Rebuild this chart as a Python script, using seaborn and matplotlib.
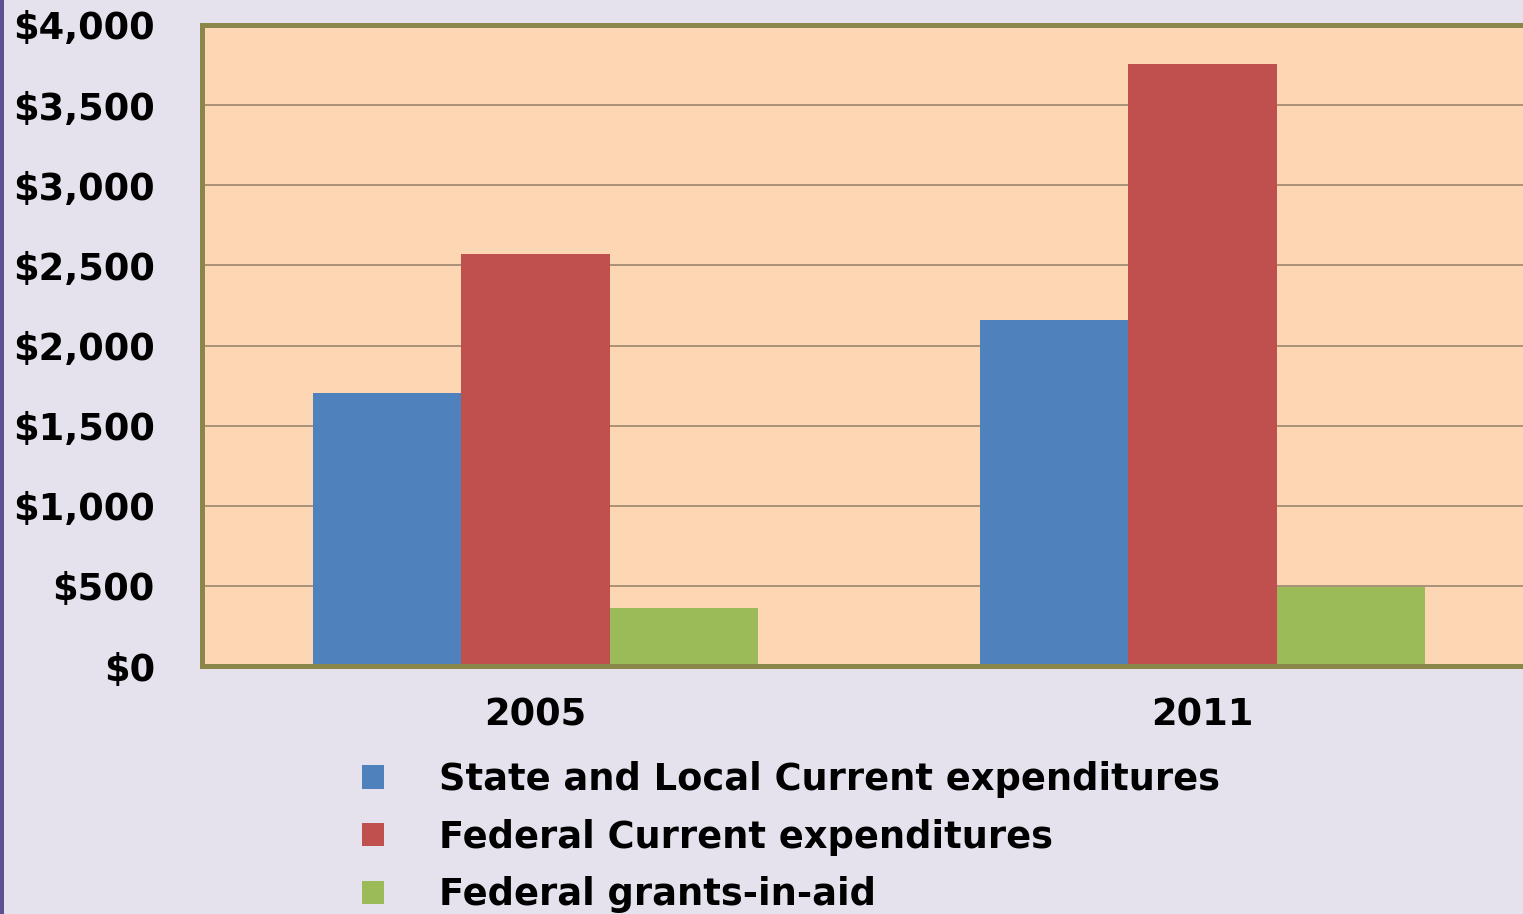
import matplotlib
matplotlib.use("Agg")
import matplotlib.pyplot as plt
from matplotlib.patches import Patch, Rectangle
from matplotlib.ticker import FixedLocator, FuncFormatter
import seaborn as sns
import pandas as pd

# Expenditures (dollars) by year
years = ["2005", "2011"]
series = [
    "State and Local Current expenditures",
    "Federal Current expenditures",
    "Federal grants-in-aid",
]
state_local = [1705, 2160]
federal_current = [2570, 3757]
federal_grants = [362, 495]
colors = ["#4f81bd", "#c0504d", "#9bbb59"]
y_ticks = [0, 500, 1000, 1500, 2000, 2500, 3000, 3500, 4000]

df = pd.DataFrame({
    "Year": years * 3,
    "Series": [s for s in series for _ in years],
    "Value": state_local + federal_current + federal_grants,
})

sns.set_theme(style="white")
plt.rcParams["font.family"] = ["DejaVu Sans"]
plt.rcParams["font.weight"] = "bold"
plt.rcParams["text.color"] = "black"

fig = plt.figure(figsize=(15.23, 9.14), dpi=100)
fig.patch.set_facecolor("#e5e1ed")
fig.add_artist(Rectangle((0, 0), 4 / 1523, 1, transform=fig.transFigure,
                         facecolor="#5f5190", edgecolor="none"))

ax = fig.add_axes([202 / 1523, 1 - 666 / 914, 1334 / 1523, 641 / 914])
ax.set_facecolor("#fdd6b4")

sns.barplot(data=df, x="Year", y="Value", hue="Series", order=years,
            hue_order=series, palette=colors, saturation=1, width=0.667,
            linewidth=0, ax=ax, zorder=3)

ax.set_xlim(-0.5, 1.5)
ax.set_ylim(0, 4000)
ax.yaxis.set_major_locator(FixedLocator(y_ticks))
ax.yaxis.set_major_formatter(FuncFormatter(lambda v, p: f"${v:,.0f}"))
for v in y_ticks[1:-1]:
    ax.axhline(v, color="#917f68", linewidth=1.1, zorder=1)

for side in ["top", "left", "bottom"]:
    ax.spines[side].set_color("#8b874a")
    ax.spines[side].set_linewidth(3.6)
    ax.spines[side].set_zorder(4)
ax.spines["right"].set_visible(False)

ax.tick_params(axis="y", length=0, pad=34, labelsize=26.5, labelcolor="black")
ax.tick_params(axis="x", length=0, pad=22, labelsize=26.5, labelcolor="black")
for lbl in ax.get_xticklabels() + ax.get_yticklabels():
    lbl.set_fontweight("bold")
ax.set_xlabel("")
ax.set_ylabel("")

if ax.get_legend() is not None:
    ax.get_legend().remove()
handles = [Patch(facecolor=c, edgecolor="none") for c in colors]
leg = fig.legend(handles, series, loc="upper left",
                 bbox_to_anchor=(362 / 1523, 1 - 761 / 914),
                 frameon=False, fontsize=26.5, handlelength=0.6,
                 handleheight=0.6, handletextpad=1.5, labelspacing=0.56,
                 borderaxespad=0, borderpad=0)
for t in leg.get_texts():
    t.set_fontweight("bold")
    t.set_color("black")

fig.savefig("out.png", dpi=100, facecolor=fig.get_facecolor())
